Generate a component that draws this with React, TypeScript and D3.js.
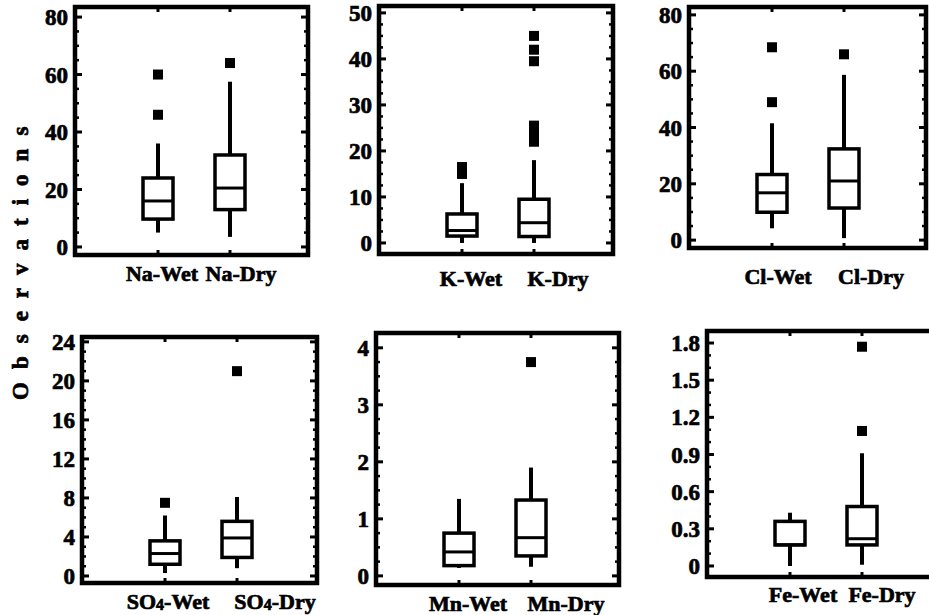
import React from "react";
import * as d3 from "d3";

// ---- data ----
// box stats: [lowWhisker, Q1, median, Q3, highWhisker]
const ions = ["Na", "K", "Cl", "SO4", "Mn", "Fe"];
const seasons = ["Wet", "Dry"];

const naWet = [5, 9.7, 16, 24, 36];
const naDry = [3.5, 13, 20.5, 32, 57.5];
const naWetOut = [46, 60];
const naDryOut = [64];

const kWet = [0, 1.5, 2.7, 6.3, 13];
const kDry = [0, 1.4, 4.4, 9.5, 18];
const kWetOut = [15, 16.5];
const kDryOut = [22, 24, 25.5, 39.5, 42, 45];

const clWet = [4.2, 9.9, 16.8, 23.3, 41.5];
const clDry = [0.7, 11.4, 21, 32.4, 58.7];
const clWetOut = [49, 68.5];
const clDryOut = [66];

const so4Wet = [0.3, 1.2, 2.3, 3.6, 6.2];
const so4Dry = [0.8, 1.9, 3.9, 5.6, 8.1];
const so4WetOut = [7.5];
const so4DryOut = [21];

const mnWet = [0.14, 0.18, 0.42, 0.75, 1.35];
const mnDry = [0.16, 0.35, 0.67, 1.33, 1.9];
const mnWetOut: number[] = [];
const mnDryOut = [3.75];

const feWet = [0, 0.17, 0.17, 0.36, 0.43];
const feDry = [0.01, 0.17, 0.22, 0.48, 0.91];
const feWetOut: number[] = [];
const feDryOut = [1.09, 1.77];

const naTicks = [0, 20, 40, 60, 80];
const kTicks = [0, 10, 20, 30, 40, 50];
const clTicks = [0, 20, 40, 60, 80];
const so4Ticks = [0, 4, 8, 12, 16, 20, 24];
const mnTicks = [0, 1, 2, 3, 4];
const feTicks = [0, 0.3, 0.6, 0.9, 1.2, 1.5, 1.8];
const feTickLabels = ["0", "0.3", "0.6", "0.9", "1.2", "1.5", "1.8"];

const yAxisTitle = "Observations";

// ---- layout (frames, axis extents) ----
const layouts = [
  { left: 75, right: 308, top: 7, bottom: 255, domain: [-2.8, 83.5], minor: 5, lab: [87, 166], labY: 281 },
  { left: 379, right: 613, top: 6, bottom: 254, domain: [-2.4, 51.5], minor: 2.5, lab: [92, 179], labY: 286 },
  { left: 689, right: 926, top: 7, bottom: 248, domain: [-2.8, 82.8], minor: 5, lab: [89, 182], labY: 284 },
  { left: 82, right: 317, top: 337, bottom: 583, domain: [-0.72, 24.5], minor: 1, lab: [86, 193], labY: 609 },
  { left: 376, right: 619, top: 333, bottom: 585, domain: [-0.16, 4.26], minor: 0.25, lab: [92, 190], labY: 611 },
  { left: 707, right: 940, top: 331, bottom: 577, domain: [-0.089, 1.897], minor: 0.1, lab: [96, 175], labY: 602 },
];

const stats = [
  [naWet, naDry], [kWet, kDry], [clWet, clDry],
  [so4Wet, so4Dry], [mnWet, mnDry], [feWet, feDry],
];
const outs = [
  [naWetOut, naDryOut], [kWetOut, kDryOut], [clWetOut, clDryOut],
  [so4WetOut, so4DryOut], [mnWetOut, mnDryOut], [feWetOut, feDryOut],
];
const ticks = [naTicks, kTicks, clTicks, so4Ticks, mnTicks, feTicks];

const FONT = "'Liberation Serif', 'Times New Roman', serif";
const textStyle = { fontFamily: FONT, fontWeight: "bold" as const, stroke: "#000", strokeWidth: 0.7 };

function CatLabel({ ion, season, x, y }: { ion: string; season: string; x: number; y: number }) {
  if (ion === "SO4") {
    return (
      <text x={x} y={y} textAnchor="middle" fontSize={22} style={textStyle}>
        SO
        <tspan fontSize={16} dy={1}>4</tspan>
        <tspan dy={-1}>{"-" + season}</tspan>
      </text>
    );
  }
  return (
    <text x={x} y={y} textAnchor="middle" fontSize={22} style={textStyle}>
      {ion + "-" + season}
    </text>
  );
}

function Panel({ idx }: { idx: number }) {
  const L = layouts[idx];
  const ion = ions[idx];
  const y = d3.scaleLinear().domain(L.domain).range([L.bottom, L.top]);
  const x = d3.scalePoint<string>().domain(seasons).range([L.left + 83, L.left + 155]);
  const tv = ticks[idx];
  const step = tv[1] - tv[0];
  const minorVals = d3
    .range(0, Math.round((tv[tv.length - 1] - tv[0]) / L.minor) + 1)
    .map((i) => tv[0] + i * L.minor)
    .filter((v) => !tv.some((t) => Math.abs(t - v) < step * 1e-3));
  const bw = 30;
  const labels = idx === 5 ? feTickLabels : tv.map((t) => String(t));
  return (
    <g>
      {tv.map((t, i) => (
        <g key={"t" + i}>
          <line x1={L.left} x2={L.left + 7} y1={y(t)} y2={y(t)} stroke="#000" strokeWidth={3} />
          <line x1={L.right} x2={L.right - 7} y1={y(t)} y2={y(t)} stroke="#000" strokeWidth={3} />
          <text
            x={L.left - 7}
            y={y(t)}
            dy="0.35em"
            textAnchor="end"
            fontSize={23}
            style={textStyle}
          >
            {labels[i]}
          </text>
        </g>
      ))}
      {minorVals.map((v, i) => (
        <g key={"m" + i}>
          <line x1={L.left} x2={L.left + 4} y1={y(v)} y2={y(v)} stroke="#000" strokeWidth={2.5} />
          <line x1={L.right} x2={L.right - 4} y1={y(v)} y2={y(v)} stroke="#000" strokeWidth={2.5} />
        </g>
      ))}
      {seasons.map((s) => (
        <g key={"ct" + s}>
          <line x1={x(s)} x2={x(s)} y1={L.top} y2={L.top + 5} stroke="#000" strokeWidth={3} />
          <line x1={x(s)} x2={x(s)} y1={L.bottom} y2={L.bottom - 5} stroke="#000" strokeWidth={3} />
        </g>
      ))}
      {seasons.map((s, si) => {
        const [lo, q1, med, q3, hi] = stats[idx][si];
        const cx = x(s) as number;
        return (
          <g key={"b" + s}>
            <line x1={cx} x2={cx} y1={y(lo)} y2={y(q1)} stroke="#000" strokeWidth={4} />
            <line x1={cx} x2={cx} y1={y(q3)} y2={y(hi)} stroke="#000" strokeWidth={4} />
            <rect
              x={cx - bw / 2}
              y={y(q3)}
              width={bw}
              height={y(q1) - y(q3)}
              fill="#fff"
              stroke="#000"
              strokeWidth={3.5}
            />
            <line x1={cx - bw / 2} x2={cx + bw / 2} y1={y(med)} y2={y(med)} stroke="#000" strokeWidth={3} />
            {outs[idx][si].map((o, oi) => (
              <rect key={oi} x={cx - 5} y={y(o) - 5} width={10} height={10} fill="#000" />
            ))}
          </g>
        );
      })}
      <rect
        x={L.left}
        y={L.top}
        width={L.right - L.left}
        height={L.bottom - L.top}
        fill="none"
        stroke="#000"
        strokeWidth={4.5}
      />
      {seasons.map((s, si) => (
        <CatLabel key={"l" + s} ion={ion} season={s} x={L.left + L.lab[si]} y={L.labY} />
      ))}
    </g>
  );
}

export default function App() {
  return (
    <svg
      width={929}
      height={615}
      style={{ position: "absolute", left: 0, top: 0, background: "#fff" }}
    >
      <rect width={929} height={615} fill="#fff" />
      {ions.map((_, i) => (
        <Panel key={i} idx={i} />
      ))}
      <text
        transform="translate(28,400) rotate(-90)"
        fontSize={23}
        letterSpacing={13}
        style={textStyle}
      >
        {yAxisTitle}
      </text>
    </svg>
  );
}
